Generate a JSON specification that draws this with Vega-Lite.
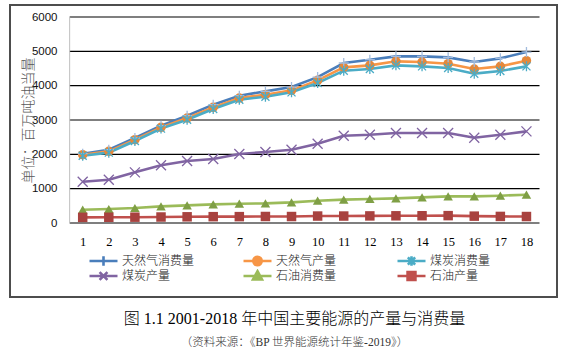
{
  "$schema": "https://vega.github.io/schema/vega-lite/v6.json",
  "width": 547,
  "height": 292,
  "autosize": {"type": "none"},
  "padding": {"left": 10, "top": 5, "right": 9, "bottom": 53},
  "background": "white",
  "config": {
    "view": {"stroke": "#4d4d4d", "strokeWidth": 2},
    "axis": {"domain": false, "ticks": false, "grid": false, "labelOverlap": false, "labelFlush": false, "labelBound": false},
    "axisX": {"offset": -74, "labelPadding": 12, "labelFont": "Liberation Serif", "labelFontSize": 12.5, "labelColor": "#000000", "labelOverlap": false, "labelSeparation": 0},
    "axisY": {"offset": -60, "labelPadding": 13, "labelFont": "Liberation Sans", "labelFontSize": 11.5, "labelColor": "#111111", "titleFont": "Noto Sans CJK SC", "titleFontSize": 14, "titleFontWeight": 300, "titleColor": "#595959", "titleAngle": 270, "titleBaseline": "middle", "titleAlign": "center"}
  },
  "title": {
    "text": "图 1.1 2001-2018 年中国主要能源的产量与消费量",
    "subtitle": "（资料来源：《BP 世界能源统计年鉴-2019》）",
    "orient": "bottom",
    "anchor": "middle",
    "frame": "group",
    "offset": 14,
    "dx": 11,
    "font": "Liberation Serif, Noto Sans CJK SC",
    "fontSize": 16,
    "fontWeight": 300,
    "color": "#000000",
    "subtitleFont": "Liberation Serif, Noto Sans CJK SC",
    "subtitleFontSize": 11.5,
    "subtitleFontWeight": 300,
    "subtitleColor": "#333333",
    "subtitlePadding": 10
  },
  "datasets": {
    "energy": [
      {"x": 1, "series": "天然气消费量", "value": 2019}, {"x": 2, "series": "天然气消费量", "value": 2136}, {"x": 3, "series": "天然气消费量", "value": 2476}, {"x": 4, "series": "天然气消费量", "value": 2835}, {"x": 5, "series": "天然气消费量", "value": 3126}, {"x": 6, "series": "天然气消费量", "value": 3447}, {"x": 7, "series": "天然气消费量", "value": 3709}, {"x": 8, "series": "天然气消费量", "value": 3835}, {"x": 9, "series": "天然气消费量", "value": 3960}, {"x": 10, "series": "天然气消费量", "value": 4250}, {"x": 11, "series": "天然气消费量", "value": 4660}, {"x": 12, "series": "天然气消费量", "value": 4757}, {"x": 13, "series": "天然气消费量", "value": 4854}, {"x": 14, "series": "天然气消费量", "value": 4854}, {"x": 15, "series": "天然气消费量", "value": 4825}, {"x": 16, "series": "天然气消费量", "value": 4690}, {"x": 17, "series": "天然气消费量", "value": 4796}, {"x": 18, "series": "天然气消费量", "value": 4980},
      {"x": 1, "series": "天然气产量", "value": 1990}, {"x": 2, "series": "天然气产量", "value": 2087}, {"x": 3, "series": "天然气产量", "value": 2427}, {"x": 4, "series": "天然气产量", "value": 2786}, {"x": 5, "series": "天然气产量", "value": 3058}, {"x": 6, "series": "天然气产量", "value": 3369}, {"x": 7, "series": "天然气产量", "value": 3640}, {"x": 8, "series": "天然气产量", "value": 3738}, {"x": 9, "series": "天然气产量", "value": 3864}, {"x": 10, "series": "天然气产量", "value": 4155}, {"x": 11, "series": "天然气产量", "value": 4534}, {"x": 12, "series": "天然气产量", "value": 4592}, {"x": 13, "series": "天然气产量", "value": 4709}, {"x": 14, "series": "天然气产量", "value": 4690}, {"x": 15, "series": "天然气产量", "value": 4640}, {"x": 16, "series": "天然气产量", "value": 4485}, {"x": 17, "series": "天然气产量", "value": 4563}, {"x": 18, "series": "天然气产量", "value": 4728},
      {"x": 1, "series": "煤炭消费量", "value": 1960}, {"x": 2, "series": "煤炭消费量", "value": 2050}, {"x": 3, "series": "煤炭消费量", "value": 2390}, {"x": 4, "series": "煤炭消费量", "value": 2750}, {"x": 5, "series": "煤炭消费量", "value": 3010}, {"x": 6, "series": "煤炭消费量", "value": 3320}, {"x": 7, "series": "煤炭消费量", "value": 3590}, {"x": 8, "series": "煤炭消费量", "value": 3680}, {"x": 9, "series": "煤炭消费量", "value": 3806}, {"x": 10, "series": "煤炭消费量", "value": 4078}, {"x": 11, "series": "煤炭消费量", "value": 4437}, {"x": 12, "series": "煤炭消费量", "value": 4485}, {"x": 13, "series": "煤炭消费量", "value": 4592}, {"x": 14, "series": "煤炭消费量", "value": 4563}, {"x": 15, "series": "煤炭消费量", "value": 4515}, {"x": 16, "series": "煤炭消费量", "value": 4350}, {"x": 17, "series": "煤炭消费量", "value": 4427}, {"x": 18, "series": "煤炭消费量", "value": 4563},
      {"x": 1, "series": "煤炭产量", "value": 1204}, {"x": 2, "series": "煤炭产量", "value": 1262}, {"x": 3, "series": "煤炭产量", "value": 1476}, {"x": 4, "series": "煤炭产量", "value": 1680}, {"x": 5, "series": "煤炭产量", "value": 1806}, {"x": 6, "series": "煤炭产量", "value": 1864}, {"x": 7, "series": "煤炭产量", "value": 2010}, {"x": 8, "series": "煤炭产量", "value": 2068}, {"x": 9, "series": "煤炭产量", "value": 2136}, {"x": 10, "series": "煤炭产量", "value": 2311}, {"x": 11, "series": "煤炭产量", "value": 2544}, {"x": 12, "series": "煤炭产量", "value": 2573}, {"x": 13, "series": "煤炭产量", "value": 2621}, {"x": 14, "series": "煤炭产量", "value": 2621}, {"x": 15, "series": "煤炭产量", "value": 2621}, {"x": 16, "series": "煤炭产量", "value": 2485}, {"x": 17, "series": "煤炭产量", "value": 2573}, {"x": 18, "series": "煤炭产量", "value": 2670},
      {"x": 1, "series": "石油消费量", "value": 388}, {"x": 2, "series": "石油消费量", "value": 408}, {"x": 3, "series": "石油消费量", "value": 437}, {"x": 4, "series": "石油消费量", "value": 485}, {"x": 5, "series": "石油消费量", "value": 515}, {"x": 6, "series": "石油消费量", "value": 544}, {"x": 7, "series": "石油消费量", "value": 563}, {"x": 8, "series": "石油消费量", "value": 573}, {"x": 9, "series": "石油消费量", "value": 602}, {"x": 10, "series": "石油消费量", "value": 650}, {"x": 11, "series": "石油消费量", "value": 680}, {"x": 12, "series": "石油消费量", "value": 700}, {"x": 13, "series": "石油消费量", "value": 718}, {"x": 14, "series": "石油消费量", "value": 748}, {"x": 15, "series": "石油消费量", "value": 777}, {"x": 16, "series": "石油消费量", "value": 777}, {"x": 17, "series": "石油消费量", "value": 796}, {"x": 18, "series": "石油消费量", "value": 825},
      {"x": 1, "series": "石油产量", "value": 165}, {"x": 2, "series": "石油产量", "value": 167}, {"x": 3, "series": "石油产量", "value": 170}, {"x": 4, "series": "石油产量", "value": 175}, {"x": 5, "series": "石油产量", "value": 181}, {"x": 6, "series": "石油产量", "value": 185}, {"x": 7, "series": "石油产量", "value": 186}, {"x": 8, "series": "石油产量", "value": 190}, {"x": 9, "series": "石油产量", "value": 189}, {"x": 10, "series": "石油产量", "value": 203}, {"x": 11, "series": "石油产量", "value": 203}, {"x": 12, "series": "石油产量", "value": 207}, {"x": 13, "series": "石油产量", "value": 210}, {"x": 14, "series": "石油产量", "value": 211}, {"x": 15, "series": "石油产量", "value": 215}, {"x": 16, "series": "石油产量", "value": 200}, {"x": 17, "series": "石油产量", "value": 192}, {"x": 18, "series": "石油产量", "value": 189}
    ],
    "grid": [{"g": 0}, {"g": 1000}, {"g": 2000}, {"g": 3000}, {"g": 4000}, {"g": 5000}, {"g": 6000}]
  },
  "layer": [
    {
      "data": {"name": "grid"},
      "mark": {"type": "rule", "color": "#000000", "strokeWidth": 1.2},
      "encoding": {
        "x": {"datum": 0.5, "type": "quantitative", "scale": {"domain": [-1.785, 19.17], "nice": false, "zero": false},
          "axis": {"values": [1, 2, 3, 4, 5, 6, 7, 8, 9, 10, 11, 12, 13, 14, 15, 16, 17, 18], "format": "d", "title": null, "labelOverlap": false}},
        "x2": {"datum": 18.5},
        "y": {"field": "g", "type": "quantitative", "scale": {"domain": [-2155, 6350], "nice": false, "zero": false},
          "axis": {"values": [0, 1000, 2000, 3000, 4000, 5000, 6000], "format": "d", "title": "单位：百万吨油当量", "titleX": -42, "titleY": 115}}
      }
    },
    {
      "data": {"name": "grid"},
      "transform": [{"filter": "datum.g == 6000"}],
      "mark": {"type": "rule", "color": "#bfbfbf", "strokeWidth": 1},
      "encoding": {
        "x": {"datum": 0.5, "type": "quantitative",
          "axis": {"values": [1, 2, 3, 4, 5, 6, 7, 8, 9, 10, 11, 12, 13, 14, 15, 16, 17, 18], "format": "d", "title": null, "labelOverlap": false}},
        "y": {"field": "g", "type": "quantitative",
          "axis": {"values": [0, 1000, 2000, 3000, 4000, 5000, 6000], "format": "d", "title": "单位：百万吨油当量", "titleX": -42, "titleY": 115}},
        "y2": {"datum": 0}
      }
    },
    {
      "data": {"name": "energy"},
      "mark": {"type": "line", "strokeWidth": 2.6},
      "encoding": {
        "x": {"field": "x", "type": "quantitative",
          "axis": {"values": [1, 2, 3, 4, 5, 6, 7, 8, 9, 10, 11, 12, 13, 14, 15, 16, 17, 18], "format": "d", "title": null, "labelOverlap": false}},
        "y": {"field": "value", "type": "quantitative",
          "axis": {"values": [0, 1000, 2000, 3000, 4000, 5000, 6000], "format": "d", "title": "单位：百万吨油当量", "titleX": -42, "titleY": 115}},
        "color": {
          "field": "series", "type": "nominal",
          "scale": {
            "domain": ["天然气消费量", "天然气产量", "煤炭消费量", "煤炭产量", "石油消费量", "石油产量"],
            "range": ["#4a7ebb", "#f79646", "#4bacc6", "#8064a2", "#9bbb59", "#c0504d"]
          },
          "legend": {
            "orient": "none", "legendX": 78, "legendY": 249, "columns": 3, "direction": "horizontal", "title": null,
            "symbolSize": 784, "clipHeight": 14, "rowPadding": 1, "columnPadding": 47, "gridAlign": "all",
            "labelFont": "Noto Sans CJK SC", "labelFontSize": 12, "labelFontWeight": 300, "labelColor": "#222222", "labelOffset": 3, "labelLimit": 200,
            "encode": {
              "symbols": {
                "update": {
                  "shape": {"signal": "{'天然气消费量': 'M-1,0H1M0,-0.34V0.34M-0.34,0H0.34', '天然气产量': 'M-1,0H1M0.3,0A0.3,0.3,0,1,1,-0.3,0A0.3,0.3,0,1,1,0.3,0Z', '煤炭消费量': 'M-1,0H1M0,-0.34V0.34M-0.26,-0.26L0.26,0.26M-0.26,0.26L0.26,-0.26', '煤炭产量': 'M-1,0H1M-0.28,-0.28L0.28,0.28M-0.28,0.28L0.28,-0.28', '石油消费量': 'M-1,0H1M0,-0.34L0.32,0.24L-0.32,0.24Z', '石油产量': 'M-1,0H1M-0.28,-0.28H0.28V0.28H-0.28Z'}[datum.value]"},
                  "fill": {"scale": "color", "field": "value"},
                  "stroke": {"scale": "color", "field": "value"},
                  "strokeWidth": {"value": 2.6},
                  "size": {"value": 784},
                  "opacity": {"value": 1}
                }
              }
            }
          }
        }
      }
    },
    {
      "data": {"name": "energy"},
      "transform": [{"filter": {"field": "series", "oneOf": ["天然气产量", "石油消费量", "石油产量"]}}],
      "mark": {"type": "point", "filled": true, "opacity": 1, "size": 90},
      "encoding": {
        "x": {"field": "x", "type": "quantitative",
          "axis": {"values": [1, 2, 3, 4, 5, 6, 7, 8, 9, 10, 11, 12, 13, 14, 15, 16, 17, 18], "format": "d", "title": null, "labelOverlap": false}},
        "y": {"field": "value", "type": "quantitative",
          "axis": {"values": [0, 1000, 2000, 3000, 4000, 5000, 6000], "format": "d", "title": "单位：百万吨油当量", "titleX": -42, "titleY": 115}},
        "shape": {
          "field": "series", "type": "nominal", "legend": null,
          "scale": {"domain": ["天然气产量", "石油消费量", "石油产量"], "range": ["circle", "triangle-up", "square"]}
        },
        "fill": {
          "field": "series", "type": "nominal", "legend": null,
          "scale": {"domain": ["天然气产量", "石油消费量", "石油产量"], "range": ["#e4883b", "#7f9f45", "#a8423f"]}
        }
      }
    },
    {
      "data": {"name": "energy"},
      "transform": [{"filter": {"field": "series", "oneOf": ["天然气消费量", "煤炭消费量", "煤炭产量"]}}],
      "mark": {"type": "point", "filled": false, "opacity": 1, "size": 100, "strokeWidth": 1.3},
      "encoding": {
        "x": {"field": "x", "type": "quantitative",
          "axis": {"values": [1, 2, 3, 4, 5, 6, 7, 8, 9, 10, 11, 12, 13, 14, 15, 16, 17, 18], "format": "d", "title": null, "labelOverlap": false}},
        "y": {"field": "value", "type": "quantitative",
          "axis": {"values": [0, 1000, 2000, 3000, 4000, 5000, 6000], "format": "d", "title": "单位：百万吨油当量", "titleX": -42, "titleY": 115}},
        "shape": {
          "field": "series", "type": "nominal", "legend": null,
          "scale": {"domain": ["天然气消费量", "煤炭消费量", "煤炭产量"], "range": ["M-1,0H1M0,-1V1", "M0,-1V1M-0.8,-0.8L0.8,0.8M-0.8,0.8L0.8,-0.8", "M-1,-1L1,1M-1,1L1,-1"]}
        },
        "stroke": {
          "field": "series", "type": "nominal", "legend": null,
          "scale": {"domain": ["天然气消费量", "煤炭消费量", "煤炭产量"], "range": ["#a3bcdd", "#4bacc6", "#8064a2"]}
        }
      }
    }
  ],
  "resolve": {"scale": {"shape": "independent", "fill": "independent", "stroke": "independent"}}
}
